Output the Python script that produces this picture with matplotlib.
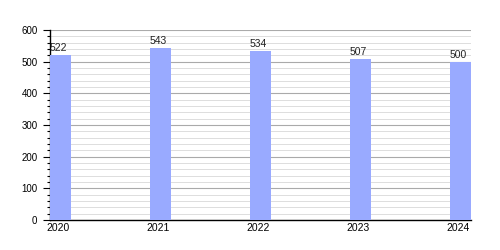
import matplotlib
matplotlib.use("Agg")
import matplotlib.pyplot as plt
from matplotlib.ticker import MultipleLocator

years = ["2020", "2021", "2022", "2023", "2024"]
values = [522, 543, 534, 507, 500]

plt.rcParams['font.family'] = ['Liberation Sans', 'DejaVu Sans']

fig = plt.figure(figsize=(5, 2.5), dpi=100)
ax = fig.add_axes([0.1, 0.12, 0.842, 0.76])

x = list(range(len(years)))
bw = 0.21
ax.bar(x, values, width=bw, align='edge', color='#99aaff', zorder=3)
for xi, v in zip(x, values):
    ax.annotate(str(v), (xi + bw / 2 - 0.02, v), xytext=(0, 1.5), textcoords='offset points',
                ha='center', va='bottom', fontsize=7.5, color='#222222', zorder=4)

ax.set_xlim(0, len(years) - 1 + bw)
ax.set_ylim(0, 600)
ax.set_xticks([xi + bw / 2 - 0.02 for xi in x])
ax.set_xticklabels(years, fontsize=7.5)
ax.tick_params(axis='x', length=0, pad=2)
ax.yaxis.set_major_locator(MultipleLocator(100))
ax.yaxis.set_minor_locator(MultipleLocator(20))
ax.tick_params(axis='y', which='major', length=5, width=0.8, labelsize=7, pad=4)
ax.tick_params(axis='y', which='minor', length=2.5, width=0.8)
ax.grid(axis='y', which='major', color='#aaaaaa', linewidth=0.8, zorder=0)
ax.grid(axis='y', which='minor', color='#dddddd', linewidth=0.7, zorder=0)
for s in ['top', 'right']:
    ax.spines[s].set_visible(False)
for s in ['left', 'bottom']:
    ax.spines[s].set_color('black')
    ax.spines[s].set_linewidth(1.0)

fig.savefig('out.png', dpi=100, facecolor='white')
